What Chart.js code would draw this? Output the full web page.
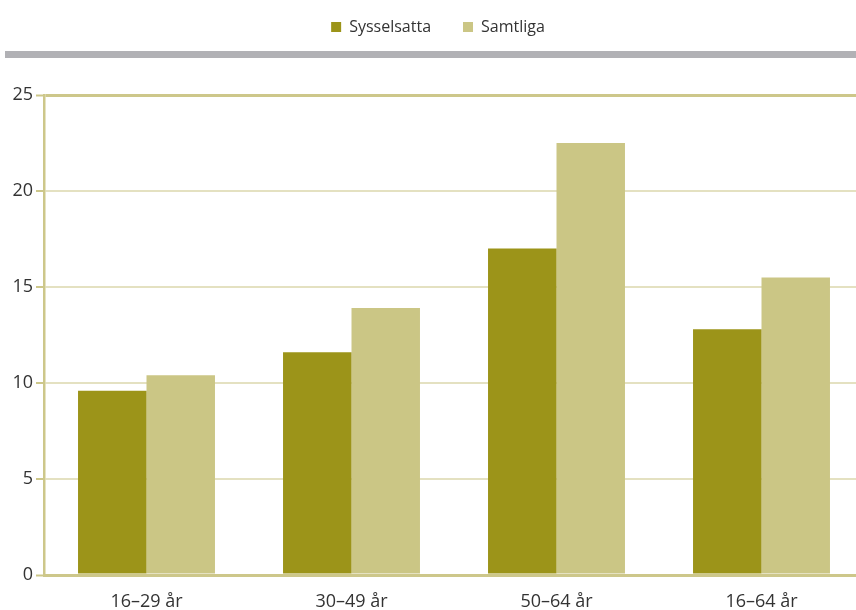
<!DOCTYPE html>
<html>
<head>
<meta charset="utf-8">
<script src="https://cdn.jsdelivr.net/npm/chart.js@4/dist/chart.umd.min.js"></script>
<style>
  html, body { margin: 0; padding: 0; background: #fff; overflow: hidden; }
  /* plot runs a few px past the right edge of the window, like the original */
  #wrap { width: 864px; height: 610px; position: relative; }
</style>
</head>
<body>
<div id="wrap"><canvas id="chart"></canvas></div>
<script>
// data
var categories = ['16–29 år', '30–49 år', '50–64 år', '16–64 år'];
var sysselsatta = [9.6, 11.6, 17.0, 12.8];
var samtliga = [10.4, 13.9, 22.5, 15.5];
var yTicks = [0, 5, 10, 15, 20, 25];

var FONT = '"Open Sans", "Noto Sans", sans-serif';
var axisCol = '#cdc78a';
var gridCol = '#e4e1c1';

// grey band under the legend
var greyBand = {
    id: 'greyBand',
    beforeDraw: function(chart) {
        var c = chart.ctx;
        c.save();
        c.fillStyle = '#b1b1b5';
        c.fillRect(5, 51, chart.width - 5, 7);
        c.restore();
    }
};

// fixed legend height so the plot starts where it should,
// and nudge the row since the item padding is wide
var legendTweak = {
    id: 'legendTweak',
    afterInit: function(chart) {
        var lg = chart.legend;
        if (!lg) return;
        var origFit = lg.fit;
        lg.fit = function() {
            origFit.call(this);
            this.height = 95;
        };
        var origDraw = lg.draw;
        lg.draw = function() {
            var c = this.ctx;
            c.save();
            c.translate(6, -13);
            origDraw.apply(this, arguments);
            c.restore();
        };
    }
};

new Chart(document.getElementById('chart'), {
    type: 'bar',
    data: {
        labels: categories,
        datasets: [
            { label: 'Sysselsatta', data: sysselsatta, backgroundColor: '#9c9419' },
            { label: 'Samtliga', data: samtliga, backgroundColor: '#cbc685' }
        ]
    },
    options: {
        responsive: true,
        maintainAspectRatio: false,
        animation: false,
        layout: { padding: 0 },
        datasets: { bar: { categoryPercentage: 0.668, barPercentage: 1.0 } },
        plugins: {
            legend: {
                position: 'top',
                labels: {
                    boxWidth: 10, boxHeight: 10, padding: 32,
                    color: '#333', font: { family: FONT, size: 16 }
                }
            },
            tooltip: { enabled: false }
        },
        scales: {
            x: {
                grid: { display: false, drawTicks: false },
                border: { color: axisCol, width: 3 },
                ticks: { color: '#333', padding: 16, font: { family: FONT, size: 18 } },
                afterFit: function(s) { s.height = 35; }
            },
            y: {
                min: 0, max: 25,
                afterBuildTicks: function(s) {
                    s.ticks = yTicks.map(function(v) { return { value: v }; });
                },
                grid: {
                    color: function(ctx) {
                        var v = ctx.tick ? ctx.tick.value : null;
                        return (v === 0 || v === 25) ? axisCol : gridCol;
                    },
                    lineWidth: function(ctx) {
                        var v = ctx.tick ? ctx.tick.value : null;
                        return (v === 0 || v === 25) ? 3 : 2;
                    },
                    tickColor: axisCol,
                    tickWidth: 2,
                    tickLength: 8
                },
                border: { color: axisCol, width: 2.5 },
                ticks: { color: '#333', padding: 3, font: { family: FONT, size: 18 } },
                afterFit: function(s) { s.width = 44; }
            }
        }
    },
    plugins: [greyBand, legendTweak]
});
</script>
</body>
</html>
